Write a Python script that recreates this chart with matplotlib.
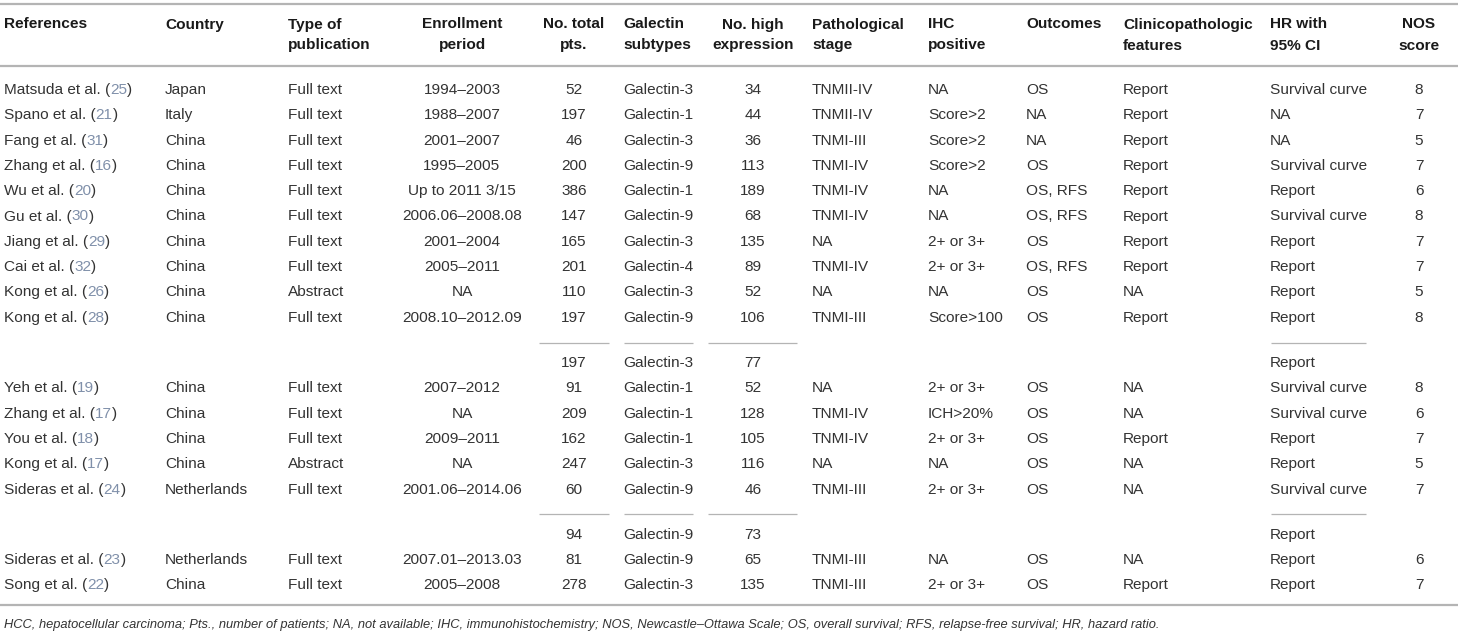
import matplotlib
matplotlib.use("Agg")
import matplotlib.pyplot as plt

# ---- table data ----
refs = ["Matsuda et al.", "Spano et al.", "Fang et al.", "Zhang et al.", "Wu et al.",
        "Gu et al.", "Jiang et al.", "Cai et al.", "Kong et al.", "Kong et al.", "",
        "Yeh et al.", "Zhang et al.", "You et al.", "Kong et al.", "Sideras et al.", "",
        "Sideras et al.", "Song et al."]
ref_nums = ["25", "21", "31", "16", "20", "30", "29", "32", "26", "28", "",
            "19", "17", "18", "17", "24", "", "23", "22"]
countries = ["Japan", "Italy", "China", "China", "China", "China", "China", "China", "China",
             "China", "", "China", "China", "China", "China", "Netherlands", "",
             "Netherlands", "China"]
pub_types = ["Full text", "Full text", "Full text", "Full text", "Full text", "Full text",
             "Full text", "Full text", "Abstract", "Full text", "", "Full text", "Full text",
             "Full text", "Abstract", "Full text", "", "Full text", "Full text"]
enrollment = ["1994–2003", "1988–2007", "2001–2007", "1995–2005", "Up to 2011 3/15",
              "2006.06–2008.08", "2001–2004", "2005–2011", "NA", "2008.10–2012.09", "",
              "2007–2012", "NA", "2009–2011", "NA", "2001.06–2014.06", "",
              "2007.01–2013.03", "2005–2008"]
total_pts = ["52", "197", "46", "200", "386", "147", "165", "201", "110", "197", "197",
             "91", "209", "162", "247", "60", "94", "81", "278"]
galectin = ["Galectin-3", "Galectin-1", "Galectin-3", "Galectin-9", "Galectin-1", "Galectin-9",
            "Galectin-3", "Galectin-4", "Galectin-3", "Galectin-9", "Galectin-3", "Galectin-1",
            "Galectin-1", "Galectin-1", "Galectin-3", "Galectin-9", "Galectin-9", "Galectin-9",
            "Galectin-3"]
high_expr = ["34", "44", "36", "113", "189", "68", "135", "89", "52", "106", "77",
             "52", "128", "105", "116", "46", "73", "65", "135"]
stage = ["TNMII-IV", "TNMII-IV", "TNMI-III", "TNMI-IV", "TNMI-IV", "TNMI-IV", "NA", "TNMI-IV",
         "NA", "TNMI-III", "", "NA", "TNMI-IV", "TNMI-IV", "NA", "TNMI-III", "", "TNMI-III",
         "TNMI-III"]
ihc = ["NA", "Score>2", "Score>2", "Score>2", "NA", "NA", "2+ or 3+", "2+ or 3+", "NA",
       "Score>100", "", "2+ or 3+", "ICH>20%", "2+ or 3+", "NA", "2+ or 3+", "", "NA", "2+ or 3+"]
outcomes = ["OS", "NA", "NA", "OS", "OS, RFS", "OS, RFS", "OS", "OS, RFS", "OS", "OS", "",
            "OS", "OS", "OS", "OS", "OS", "", "OS", "OS"]
clinico = ["Report", "Report", "Report", "Report", "Report", "Report", "Report", "Report", "NA",
           "Report", "", "NA", "NA", "Report", "NA", "NA", "", "NA", "Report"]
hr_ci = ["Survival curve", "NA", "NA", "Survival curve", "Report", "Survival curve", "Report",
         "Report", "Report", "Report", "Report", "Survival curve", "Survival curve", "Report",
         "Report", "Survival curve", "Report", "Report", "Report"]
nos = ["8", "7", "5", "7", "6", "8", "7", "7", "5", "8", "", "8", "6", "7", "5", "7", "",
       "6", "7"]
sub_row = [False] * 10 + [True] + [False] * 5 + [True] + [False] * 2

headers = ["References", "Country", "Type of\npublication", "Enrollment\nperiod",
           "No. total\npts.", "Galectin\nsubtypes", "No. high\nexpression",
           "Pathological\nstage", "IHC\npositive", "Outcomes", "Clinicopathologic\nfeatures",
           "HR with\n95% CI", "NOS\nscore"]
footnote = ("HCC, hepatocellular carcinoma; Pts., number of patients; NA, not available; "
            "IHC, immunohistochemistry; NOS, Newcastle–Ottawa Scale; OS, overall survival; "
            "RFS, relapse-free survival; HR, hazard ratio.")

# ---- layout (pixels) ----
W, H = 1461, 635
col_x = [4, 165, 288, 462, 574, 623, 753, 812, 928, 1026, 1123, 1270, 1419]
col_ha = ["left", "left", "left", "center", "center", "left", "center",
          "left", "left", "left", "left", "left", "center"]
FS = 11.1
TXT = "#333333"
HEAD = "#1a1a1a"
NUMC = "#8090aa"
RULE = "#b4b4b4"
OFF = 5.5  # cap centre -> baseline

plt.rcParams['font.family'] = ['Liberation Sans', 'DejaVu Sans']
fig = plt.figure(figsize=(W / 100, H / 100), dpi=100)
ax = fig.add_axes([0, 0, 1, 1])
ax.set_xlim(0, W)
ax.set_ylim(H, 0)
ax.axis('off')

# rules
for yy in (4, 66, 605):
    ax.plot([0, W - 3], [yy, yy], color=RULE, lw=1.6, solid_capstyle='butt')

# header
for h, x, ha in zip(headers, col_x, col_ha):
    for k, part in enumerate(h.split("\n")):
        ax.text(x, 23 + 21 * k + OFF, part, ha=ha, va='baseline', fontsize=FS,
                fontweight='bold', color=HEAD)

# row positions
ys = []
y = 88.5
for s in sub_row:
    if s:
        y += 20
    ys.append(y)
    y += 25.3

renderer = fig.canvas.get_renderer()
columns = [countries, pub_types, enrollment, total_pts, galectin, high_expr, stage, ihc,
           outcomes, clinico, hr_ci, nos]
sub_segments = [(539, 609), (624, 693), (708, 797), (1271, 1366)]

for i, yy in enumerate(ys):
    base = yy + OFF
    if sub_row[i]:
        for x0, x1 in sub_segments:
            ax.plot([x0, x1], [yy - 19, yy - 19], color=RULE, lw=0.9, solid_capstyle='butt')
    if refs[i]:
        t = ax.text(col_x[0], base, refs[i] + " (", ha='left', va='baseline', fontsize=FS,
                    color=TXT)
        x_end = t.get_window_extent(renderer).x1
        t2 = ax.text(x_end, base, ref_nums[i], ha='left', va='baseline', fontsize=FS,
                     color=NUMC)
        x_end = t2.get_window_extent(renderer).x1
        ax.text(x_end, base, ")", ha='left', va='baseline', fontsize=FS, color=TXT)
    for vals, x, ha in zip(columns, col_x[1:], col_ha[1:]):
        if vals[i]:
            ax.text(x, base, vals[i], ha=ha, va='baseline', fontsize=FS, color=TXT)

ax.text(4, 623 + 5, footnote, ha='left', va='baseline', fontsize=9.3, style='italic',
        color=TXT)

fig.savefig("out.png", dpi=100)
